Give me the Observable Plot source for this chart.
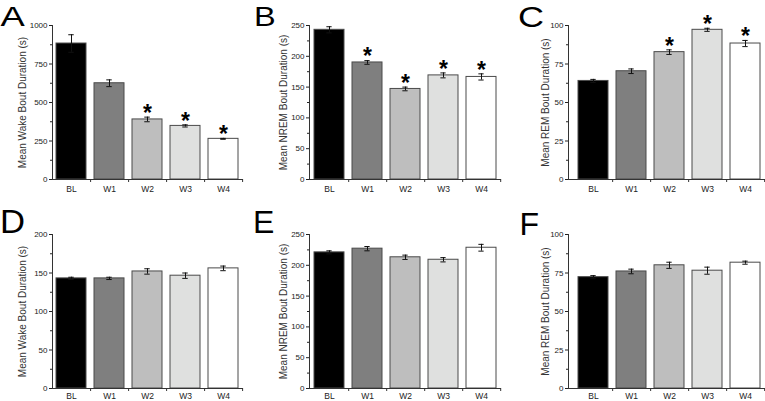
<!DOCTYPE html>
<html><head><meta charset="utf-8">
<script src="https://cdn.jsdelivr.net/npm/d3@7"></script>
<script src="https://cdn.jsdelivr.net/npm/@observablehq/plot@0.6"></script>
<style>
body{margin:0;background:#fff;}
#wrap{position:relative;width:765px;height:401px;overflow:hidden;background:#fff;font-family:"Liberation Sans",Arial,sans-serif;}
#wrap > svg{position:absolute;}
</style></head><body><div id="wrap"></div>
<script>
const categories = ["BL", "W1", "W2", "W3", "W4"];
const shades = ["#000000", "#7f7f7f", "#bebebe", "#dfe0df", "#ffffff"];

// Panel A – Wake (top)
const wakeA = [883, 625, 390, 348, 264];
const wakeAErr = [57, 22, 15, 7, 3];
const wakeASig = [false, false, true, true, true];
const wakeATicks = [0, 250, 500, 750, 1000];
// Panel B – NREM (top)
const nremB = [243, 190, 147, 169, 166.5];
const nremBErr = [5, 3, 3, 4, 5];
const nremBSig = [false, true, true, true, true];
const nremBTicks = [0, 50, 100, 150, 200, 250];
// Panel C – REM (top)
const remC = [64, 70.3, 82.7, 97.2, 88.3];
const remCErr = [1, 1.5, 1.5, 1, 2];
const remCSig = [false, false, true, true, true];
const remCTicks = [0, 25, 50, 75, 100];
// Panel D – Wake (bottom)
const wakeD = [143, 143, 152, 146.5, 156];
const wakeDErr = [1.5, 1.5, 3.5, 3.5, 3];
const wakeDSig = [false, false, false, false, false];
const wakeDTicks = [0, 50, 100, 150, 200];
// Panel E – NREM (bottom)
const nremE = [221, 227, 213, 209, 228.5];
const nremEErr = [2.5, 3.5, 3.5, 3.5, 5.5];
const nremESig = [false, false, false, false, false];
const nremETicks = [0, 50, 100, 150, 200, 250];
// Panel F – REM (bottom)
const remF = [72.3, 76, 80, 76.5, 81.7];
const remFErr = [1, 1.5, 2, 2.3, 1];
const remFSig = [false, false, false, false, false];
const remFTicks = [0, 25, 50, 75, 100];

const labels = ["Mean Wake Bout Duration (s)", "Mean NREM Bout Duration (s)", "Mean REM Bout Duration (s)"];
const panelLetters = ["A", "B", "C", "D", "E", "F"];

const wrap = document.getElementById("wrap");
const FONT = '"Liberation Sans", Arial, sans-serif';

function panel(cfg) {
  const {left, top, h, mt, mb, ml, mr, inset, means, errs, sig, ticks, label, labelDx, xPad} = cfg;
  const width = 255;
  const data = categories.map((c, i) => ({cat: c, v: means[i], e: errs[i], s: sig[i]}));
  const step = (width - ml - mr - inset) / categories.length;
  const bw = step * 0.8;
  const capInset = (bw - 6) / 2;
  const minors = d3.pairs(ticks).map(([a, b]) => (a + b) / 2);
  const svg = Plot.plot({
    width, height: h,
    marginTop: mt, marginBottom: mb, marginLeft: ml, marginRight: mr,
    style: {fontFamily: FONT, background: "transparent", color: "#222", overflow: "visible"},
    x: {domain: categories, paddingInner: 0.2, paddingOuter: 0.1, insetLeft: inset},
    y: {domain: [ticks[0], ticks[ticks.length - 1]]},
    color: {domain: categories, range: shades},
    marks: [
      Plot.barY(data, {x: "cat", y: "v", fill: "cat", stroke: "#4a4a4a", strokeWidth: 1}),
      Plot.ruleX(data, {x: "cat", y1: d => d.v - d.e, y2: d => d.v + d.e, stroke: "#111", strokeWidth: 1}),
      Plot.tickY(data, {x: "cat", y: d => d.v + d.e, insetLeft: capInset, insetRight: capInset, stroke: "#111"}),
      Plot.tickY(data, {x: "cat", y: d => d.v - d.e, insetLeft: capInset, insetRight: capInset, stroke: "#111"}),
      Plot.text(data.filter(d => d.s), {x: "cat", y: d => d.v + d.e, text: () => "*", dy: -3.5, fontSize: 23, fontWeight: "bold", fill: "#000"}),
      Plot.ruleX(categories, {x: d => d, dx: step / 2, y1: 0, y2: 0, insetBottom: -3, stroke: "#333"}),
      Plot.axisY({ticks, tickSize: 3, tickPadding: 2, fontSize: 8, label: null, tickFormat: d3.format("d")}),
      Plot.axisY(minors, {tickSize: 2, tickFormat: () => "", label: null}),
      Plot.axisX({tickSize: 0, tickPadding: xPad, fontSize: 8.5, label: null}),
      Plot.ruleY([0], {stroke: "#333"}),
      Plot.frame({anchor: "left", stroke: "#333"}),
      Plot.text([label], {frameAnchor: "left", dx: labelDx, rotate: -90, textAnchor: "middle", text: d => d, fontSize: 10, fill: "#333"})
    ]
  });
  svg.style.left = left + "px";
  svg.style.top = top + "px";
  wrap.appendChild(svg);
}

const topRow = {top: 0, h: 200, mt: 25, mb: 21, xPad: 6.3};
const botRow = {top: 200, h: 201, mt: 34, mb: 13, xPad: 4.5};
const colA = {left: 0, ml: 52, mr: 12, inset: 0, labelDx: -30};
const colB = {left: 255, ml: 54, mr: 9, inset: 0, labelDx: -26};
const colC = {left: 510, ml: 58, mr: 0, inset: 5.5, labelDx: -22.5};

panel({...topRow, ...colA, means: wakeA, errs: wakeAErr, sig: wakeASig, ticks: wakeATicks, label: labels[0]});
panel({...topRow, ...colB, means: nremB, errs: nremBErr, sig: nremBSig, ticks: nremBTicks, label: labels[1]});
panel({...topRow, ...colC, means: remC, errs: remCErr, sig: remCSig, ticks: remCTicks, label: labels[2]});
panel({...botRow, ...colA, means: wakeD, errs: wakeDErr, sig: wakeDSig, ticks: wakeDTicks, label: labels[0]});
panel({...botRow, ...colB, means: nremE, errs: nremEErr, sig: nremESig, ticks: nremETicks, label: labels[1]});
panel({...botRow, ...colC, means: remF, errs: remFErr, sig: remFSig, ticks: remFTicks, label: labels[2]});

// panel letters overlay
const ov = d3.create("svg").attr("width", 765).attr("height", 401).style("left", "0px").style("top", "0px").style("pointer-events", "none");
const letterPos = [
  {x: 0.5, y: 25.5, s: 28, k: 1.3}, {x: 254, y: 25.5, s: 28, k: 1.16}, {x: 518, y: 27, s: 30, k: 1.2},
  {x: 0, y: 233, s: 33, k: 1.05}, {x: 253, y: 233, s: 32, k: 1.0}, {x: 519.5, y: 235, s: 32, k: 1.0}
];
panelLetters.forEach((L, i) => {
  const p = letterPos[i];
  ov.append("text").attr("transform", `translate(${p.x},${p.y}) scale(${p.k},1)`)
    .attr("font-family", FONT).attr("font-size", p.s).attr("fill", "#000").text(L);
});
wrap.appendChild(ov.node());
</script>
</body></html>
